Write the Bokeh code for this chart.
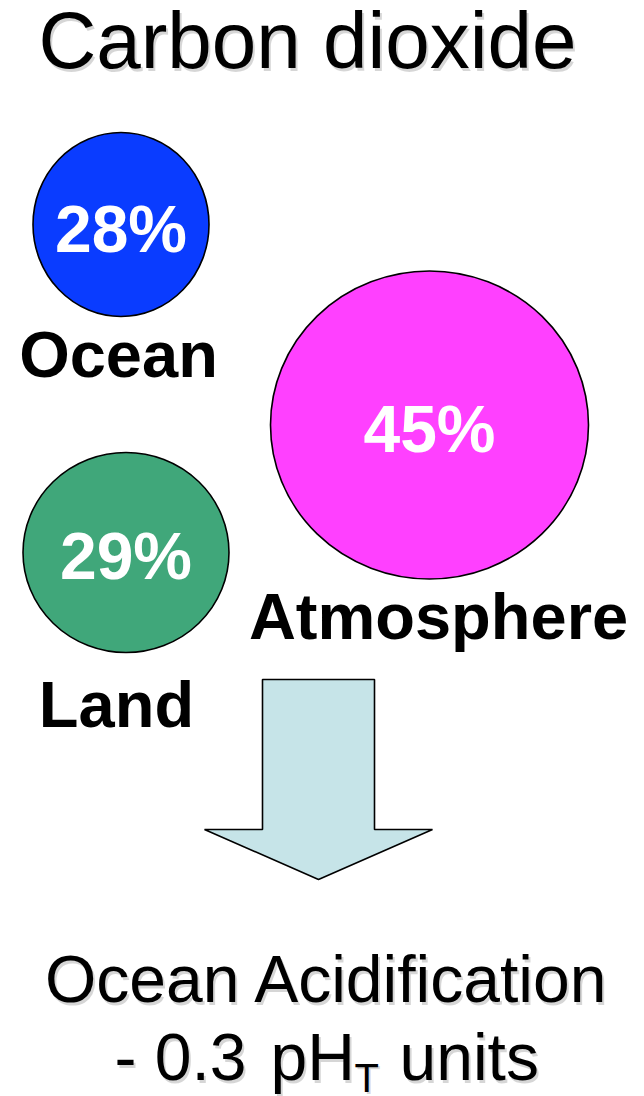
from bokeh.plotting import figure
from bokeh.models import Range1d, ColumnDataSource
from bokeh.core.properties import value
from bokeh.embed import file_html
from bokeh.resources import INLINE

W, H = 644, 1096
FONT = "Liberation Sans"
# the SVG text baseline lands a bit low; lift every text by this fraction of its size
LIFT = 0.37

# Share of emitted CO2 ending up in each reservoir (percent)
reservoirs = ["Ocean", "Land", "Atmosphere"]
uptake_pct = [28, 29, 45]
fill_colors = ["#0A3CFF", "#40A77A", "#FF40FF"]

# Page layout in pixels (y grows downward)
centre_x = [120.5, 125.5, 429.0]
centre_y = [224.0, 552.0, 424.5]
radius_x = [88.0, 103.0, 159.0]
radius_y = [92.0, 100.0, 154.0]
pct_baseline = [253, 580, 453]
name_x = [118, 116, 438]
name_baseline = [378, 728, 640]

title = "Carbon dioxide"
effect_line = "Ocean Acidification"
ph_parts = ["- 0.3", "pH", "T", "units"]

PCT_SIZE, NAME_SIZE = 66, 65

src = ColumnDataSource(dict(
    name=reservoirs,
    pct=[f"{v}%" for v in uptake_pct],
    color=fill_colors,
    x=centre_x, y=centre_y,
    w=[2 * r for r in radius_x], h=[2 * r for r in radius_y],
    pct_y=[b - LIFT * PCT_SIZE for b in pct_baseline],
    name_x=name_x,
    name_y=[b - LIFT * NAME_SIZE for b in name_baseline],
))

p = figure(width=W, height=H, x_range=Range1d(0, W), y_range=Range1d(H, 0),
           x_axis_type=None, y_axis_type=None, output_backend="svg",
           toolbar_location=None, min_border=0)
p.grid.visible = False
p.outline_line_color = None
p.background_fill_color = "white"
p.border_fill_color = "white"

# reservoir bubbles
p.ellipse(x="x", y="y", width="w", height="h", source=src,
          fill_color="color", line_color="black", line_width=1.6)
p.text(x="x", y="pct_y", text="pct", source=src, text_color="white",
       text_font=value(FONT), text_font_style="bold",
       text_font_size=f"{PCT_SIZE}px",
       text_align="center", text_baseline="alphabetic")
p.text(x="name_x", y="name_y", text="name", source=src, text_color="black",
       text_font=value(FONT), text_font_style="bold",
       text_font_size=f"{NAME_SIZE}px",
       text_align="center", text_baseline="alphabetic")

# downward arrow
shaft_l, shaft_r, shaft_top = 262, 374, 679
head_l, head_r, head_y, tip_y = 204, 432, 829, 879
tip_x = (head_l + head_r) / 2
p.patch([shaft_l, shaft_r, shaft_r, head_r, tip_x, head_l, shaft_l],
        [shaft_top, shaft_top, head_y, head_y, tip_y, head_y, head_y],
        fill_color="#C6E4E8", line_color="black", line_width=1.6)


def shadowed(x, baseline, text, size, align="center"):
    y = baseline - LIFT * size
    common = dict(text_font=value(FONT), text_font_size=f"{size}px",
                  text_align=align, text_baseline="alphabetic")
    p.text(x=[x + 2], y=[y + 2.5], text=[text], text_color="#000000",
           text_alpha=0.16, **common)
    p.text(x=[x], y=[y], text=[text], text_color="black", **common)


shadowed(307, 70, title, 80)
shadowed(327, 1003, effect_line, 66)
shadowed(114, 1081, ph_parts[0], 66, align="left")
shadowed(270, 1081, ph_parts[1], 66, align="left")
shadowed(354, 1092, ph_parts[2], 40, align="left")
shadowed(399, 1081, ph_parts[3], 66, align="left")

open("out.html", "w").write(file_html(p, INLINE))
